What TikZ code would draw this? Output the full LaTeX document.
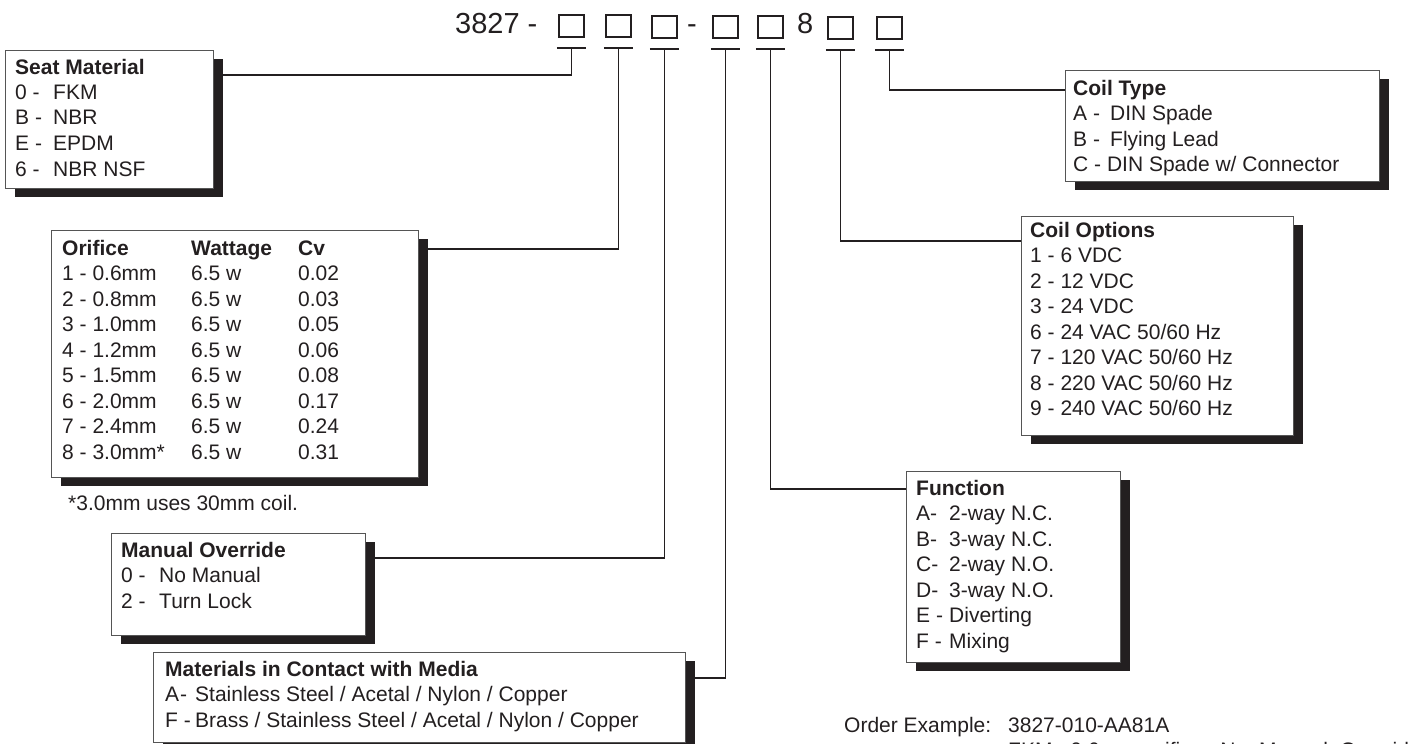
\documentclass[tikz,border=0pt]{standalone}
\usepackage{fontspec}
\setmainfont{Liberation Sans}
\usetikzlibrary{shadows}
\definecolor{ink}{HTML}{231F20}
\definecolor{edgec}{HTML}{555555}
\newcommand{\bfnt}{\fontsize{21}{25.5}\selectfont}
\newcommand{\hfnt}{\fontsize{29}{34}\selectfont}
\newcommand{\lbl}[2]{\makebox[#1][l]{#2}}
\newcommand{\lines}[1]{\parbox[t]{600pt}{\bfnt #1}}
\begin{document}
\begin{tikzpicture}[x=1pt,y=-1pt,
  panel/.style={draw=edgec, line width=0.9pt, fill=white, anchor=north west, inner sep=0pt,
    drop shadow={shadow xshift=10pt, shadow yshift=-9pt, fill=ink, opacity=1}},
  txt/.style={anchor=base west, inner sep=0pt, text=ink, font=\bfnt},
  conn/.style={draw=ink, line width=1.8pt},
  sq/.style={draw=ink, line width=1.8pt, minimum width=25pt, minimum height=22pt, inner sep=0pt, anchor=north west},
  hdr/.style={anchor=base west, inner sep=0pt, text=ink, font=\hfnt},
]
\useasboundingbox (0,0) rectangle (1416,744);
\clip (0,0) rectangle (1416,744);

% header
\node[hdr] (code) at (455,33) {3827 -};
\node[sq] (sq1) at (558,14) {};
\node[sq] (sq2) at (605,14) {};
\node[sq] (sq3) at (651,15) {};
\node[hdr] (dash) at (687,33) {-};
\node[sq] (sq4) at (712,15) {};
\node[sq] (sq5) at (757,15) {};
\node[hdr] (eight) at (797,33) {8};
\node[sq] (sq6) at (827,16) {};
\node[sq] (sq7) at (876,16) {};
\foreach \i in {1,...,7}{
  \coordinate (b\i) at ([yshift=-10pt]sq\i.south);
  \draw[conn] ([xshift=-14.5pt]b\i) -- ([xshift=14.5pt]b\i);
}

% panels
\node[panel, minimum width=208pt, minimum height=138pt] (seat) at (5,50) {};
\node[panel, minimum width=367pt, minimum height=247pt] (orif) at (51,230) {};
\node[panel, minimum width=254pt, minimum height=102pt] (manual) at (111,533) {};
\node[panel, minimum width=532pt, minimum height=90pt] (mat) at (153,652) {};
\node[panel, minimum width=214pt, minimum height=191pt] (func) at (906,471) {};
\node[panel, minimum width=272pt, minimum height=219pt] (copt) at (1021,216) {};
\node[panel, minimum width=314pt, minimum height=111pt] (ctype) at (1065,70) {};

% connectors
\draw[conn] ([yshift=-25pt]seat.north east) -| (b1);
\draw[conn] ([yshift=-19pt]orif.north east) -| (b2);
\draw[conn] ([yshift=-25pt]manual.north east) -| (b3);
\draw[conn] ([yshift=-26pt]mat.north east) -| (b4);
\draw[conn] ([yshift=-18pt]func.north west) -| (b5);
\draw[conn] ([yshift=-25pt]copt.north west) -| (b6);
\draw[conn] ([yshift=-20pt]ctype.north west) -| (b7);

% panel texts
\node[txt] (seattxt) at (15,74) {\lines{\textbf{Seat Material}\\
  \lbl{38pt}{0 -}FKM\\ \lbl{38pt}{B -}NBR\\ \lbl{38pt}{E -}EPDM\\ \lbl{38pt}{6 -}NBR NSF}};

\node[txt] (oriftxt) at (62,255) {\lines{%
  \lbl{129pt}{\textbf{Orifice}}\lbl{107pt}{\textbf{Wattage}}\textbf{Cv}\\
  \lbl{129pt}{1 - 0.6mm}\lbl{107pt}{6.5 w}0.02\\
  \lbl{129pt}{2 - 0.8mm}\lbl{107pt}{6.5 w}0.03\\
  \lbl{129pt}{3 - 1.0mm}\lbl{107pt}{6.5 w}0.05\\
  \lbl{129pt}{4 - 1.2mm}\lbl{107pt}{6.5 w}0.06\\
  \lbl{129pt}{5 - 1.5mm}\lbl{107pt}{6.5 w}0.08\\
  \lbl{129pt}{6 - 2.0mm}\lbl{107pt}{6.5 w}0.17\\
  \lbl{129pt}{7 - 2.4mm}\lbl{107pt}{6.5 w}0.24\\
  \lbl{129pt}{8 - 3.0mm*}\lbl{107pt}{6.5 w}0.31}};
\node[txt] (footnote) at (68,510) {*3.0mm uses 30mm coil.};

\node[txt] (mantxt) at (121,557) {\lines{\textbf{Manual Override}\\
  \lbl{38pt}{0 -}No Manual\\ \lbl{38pt}{2 -}Turn Lock}};

\node[txt] (mattxt) at (165,676) {\lines{\textbf{Materials in Contact with Media}\\
  \lbl{30pt}{A\kern1pt-}Stainless Steel / Acetal / Nylon / Copper\\
  \lbl{30pt}{F -}Brass / Stainless Steel / Acetal / Nylon / Copper}};

\node[txt] (functxt) at (916,495) {\lines{\textbf{Function}\\
  \lbl{33pt}{A-}2-way N.C.\\ \lbl{33pt}{B-}3-way N.C.\\ \lbl{33pt}{C-}2-way N.O.\\
  \lbl{33pt}{D-}3-way N.O.\\ \lbl{33pt}{E -}Diverting\\ \lbl{33pt}{F -}Mixing}};

\node[txt] (copttxt) at (1030,237) {\lines{\textbf{Coil Options}\\
  1 - 6 VDC\\ 2 - 12 VDC\\ 3 - 24 VDC\\ 6 - 24 VAC 50/60 Hz\\
  7 - 120 VAC 50/60 Hz\\ 8 - 220 VAC 50/60 Hz\\ 9 - 240 VAC 50/60 Hz}};

\node[txt] (ctypetxt) at (1073,95) {\lines{\textbf{Coil Type}\\
  \lbl{37pt}{A -}DIN Spade\\ \lbl{37pt}{B -}Flying Lead\\ C - DIN Spade w/ Connector}};

% order example
\node[txt] (ordlbl) at (844,732) {Order Example:};
\node[txt] (ordcode) at (1008,732) {3827-010-AA81A};
\node[txt] (ordnote) at (1008,757) {\spaceskip=12pt FKM, 0.6mm orifice, No Manual Override};
\end{tikzpicture}
\end{document}
